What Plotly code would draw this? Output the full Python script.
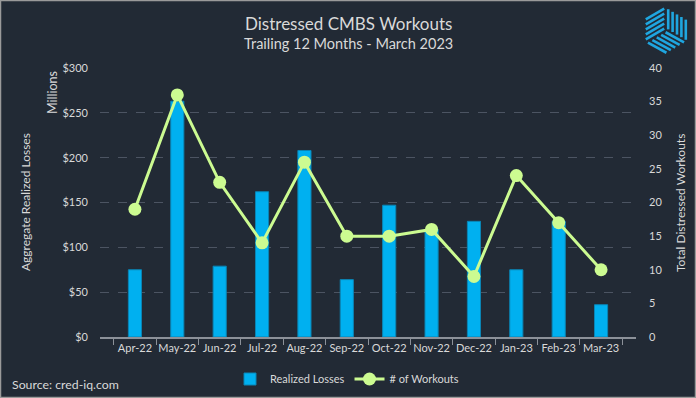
import plotly.graph_objects as go

months = ["Apr-22", "May-22", "Jun-22", "Jul-22", "Aug-22", "Sep-22",
          "Oct-22", "Nov-22", "Dec-22", "Jan-23", "Feb-23", "Mar-23"]
realized_losses = [75, 263, 79, 162, 208, 64, 147, 120, 129, 75, 129, 36]
workouts = [19, 36, 23, 14, 26, 15, 15, 16, 9, 24, 17, 10]
left_ticks = [0, 50, 100, 150, 200, 250, 300]
right_ticks = [0, 5, 10, 15, 20, 25, 30, 35, 40]

BG = "#222a35"
TXT = "#d9d9d9"
BAR = "#00b0f0"
LINE = "#ccfb91"
FONT = "Lato"

W, H = 696, 398
L, R, T, B = 100, 60, 68, 61
PW, PH = W - L - R, H - T - B

def px(x):
    return (x - L) / PW

def py(y):
    return (H - B - y) / PH

fig = go.Figure()
fig.add_trace(go.Bar(
    x=months, y=realized_losses, name="Realized Losses",
    marker=dict(color=BAR, line=dict(color="#0a85b5", width=1)),
    yaxis="y",
))
fig.add_trace(go.Scatter(
    x=months, y=workouts, name="# of Workouts", mode="lines+markers",
    line=dict(color=LINE, width=3),
    marker=dict(color=LINE, size=13),
    yaxis="y2",
))

shapes = []
# outer border
shapes.append(dict(type="rect", xref="paper", yref="paper",
                   x0=px(0.5), x1=px(W - 0.5), y0=py(0.5), y1=py(H - 0.5),
                   line=dict(color="#9a9a9a", width=1.5), layer="below"))

# logo: striped cube
faces = [
    ((666, 30), (0, -24), (22, 13)),    # right face, vertical stripes
    ((644, 43), (22, -13), (0, -25)),   # left face
    ((644, 43), (22, 12), (22, -13)),   # bottom face
]
n = 5
for (ox, oy), (ux, uy), (vx, vy) in faces:
    for i in range(n):
        t = (i + 0.5) / n
        sx, sy = ox + t * vx + 0.08 * ux, oy + t * vy + 0.08 * uy
        ex, ey = ox + t * vx + 0.92 * ux, oy + t * vy + 0.92 * uy
        shapes.append(dict(type="line", xref="paper", yref="paper",
                           x0=px(sx), y0=py(sy), x1=px(ex), y1=py(ey),
                           line=dict(color="#1fa6e0", width=2.6)))

annotations = [
    dict(text="Distressed CMBS Workouts", x=px(348), y=py(23), xref="paper", yref="paper",
         showarrow=False, font=dict(size=17, color=TXT, family=FONT), xanchor="center", yanchor="middle"),
    dict(text="Trailing 12 Months - March 2023", x=px(348), y=py(43), xref="paper", yref="paper",
         showarrow=False, font=dict(size=14.5, color=TXT, family=FONT), xanchor="center", yanchor="middle"),
    dict(text="Aggregate Realized Losses", x=px(25), y=py(202), xref="paper", yref="paper",
         showarrow=False, textangle=-90, font=dict(size=12, color=TXT, family=FONT),
         xanchor="center", yanchor="middle"),
    dict(text="Millions", x=px(53), y=py(93), xref="paper", yref="paper",
         showarrow=False, textangle=-90, font=dict(size=12.5, color=TXT, family=FONT),
         xanchor="center", yanchor="middle"),
    dict(text="Total Distressed Workouts", x=px(680), y=py(203), xref="paper", yref="paper",
         showarrow=False, textangle=-90, font=dict(size=12, color=TXT, family=FONT),
         xanchor="center", yanchor="middle"),
    dict(text="Source: cred-iq.com", x=px(10), y=py(384), xref="paper", yref="paper",
         showarrow=False, font=dict(size=12.3, color=TXT, family=FONT),
         xanchor="left", yanchor="middle"),
]

fig.update_layout(
    width=W, height=H,
    margin=dict(l=L, r=R, t=T, b=B, pad=0, autoexpand=False),
    paper_bgcolor=BG, plot_bgcolor=BG,
    font=dict(family=FONT, color=TXT, size=11),
    bargap=0.69,
    showlegend=True,
    legend=dict(orientation="h", xref="container", yref="container",
                x=347 / W, y=1 - 379 / H, xanchor="center", yanchor="middle",
                font=dict(size=11, color=TXT, family=FONT), bgcolor="rgba(0,0,0,0)",
                itemwidth=30, tracegroupgap=0),
    xaxis=dict(
        type="category", tickvals=months, ticktext=months, tickangle=0, automargin=False,
        showgrid=False, showline=True, linecolor="#8c9199", linewidth=2,
        ticks="outside", tickson="boundaries", ticklen=6, tickcolor="#8c9199", tickwidth=1,
        tickfont=dict(size=11, color=TXT, family=FONT), zeroline=False,
    ),
    yaxis=dict(
        range=[0, 300], tickvals=left_ticks, ticktext=["$" + str(v) for v in left_ticks],
        showgrid=True, gridcolor="#4c5462", griddash="dash", gridwidth=1, automargin=False,
        zeroline=False, showline=False, ticks="", ticklabelstandoff=11,
        tickfont=dict(size=11, color=TXT, family=FONT),
    ),
    yaxis2=dict(
        range=[0, 40], tickvals=right_ticks, overlaying="y", side="right", automargin=False,
        showgrid=False, zeroline=False, showline=False, ticks="", ticklabelstandoff=12,
        tickfont=dict(size=11, color=TXT, family=FONT),
    ),
    shapes=shapes,
    annotations=annotations,
)

fig.write_html(
    "out.html",
    config={"displayModeBar": False},
    post_script="document.body.style.margin='0';document.body.style.overflow='hidden';",
)
